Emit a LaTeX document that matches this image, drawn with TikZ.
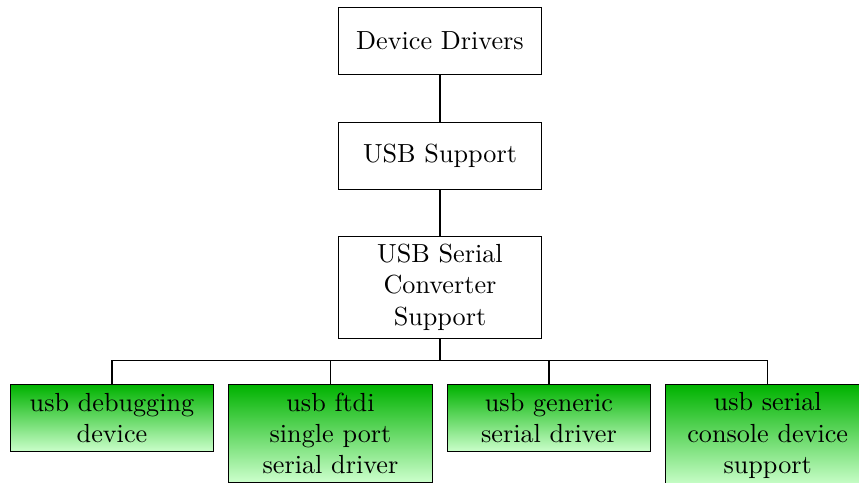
\documentclass[tikz,border=0pt]{standalone}
\usetikzlibrary{calc}
\begin{document}
\begin{tikzpicture}[x=0.382pt,y=-0.382pt,
  catbox/.style={draw=black, line width=0.4pt, align=center, text width=2.5cm,
    minimum height=0.9cm, inner xsep=3.33pt, inner ysep=3pt, anchor=north,
    font=\normalsize},
  leafbox/.style={catbox, top color=green!70!black, bottom color=green!20},
  link/.style={draw=black, line width=0.4pt}]
  \useasboundingbox (0,0) rectangle (859,483);
  \clip (0,0) rectangle (859,483);

  % menu path
  \node[catbox] (drivers) at (440,6.7) {Device Drivers};
  \node[catbox] (usb) at (440,121.7) {USB Support};
  \node[catbox] (serial) at (440,235.7) {USB Serial\\Converter\\Support};

  % options under USB Serial Converter Support
  \node[leafbox] (debug)   at (112,384.3) {usb debugging\\device};
  \node[leafbox] (ftdi)    at (330.5,384.3) {usb ftdi\\single port\\serial driver};
  \node[leafbox] (generic) at (549,384.3) {usb generic\\serial driver};
  \node[leafbox] (console) at (767.7,384.3) {usb serial\\console device\\support};

  \coordinate (bar) at (440,360.7);

  \draw[link] (drivers.south) -- (usb.north);
  \draw[link] (usb.south) -- (serial.north);
  \foreach \leaf in {debug,ftdi,generic,console}
    \draw[link] (serial.south) -- (bar) -| (\leaf.north);
\end{tikzpicture}
\end{document}
